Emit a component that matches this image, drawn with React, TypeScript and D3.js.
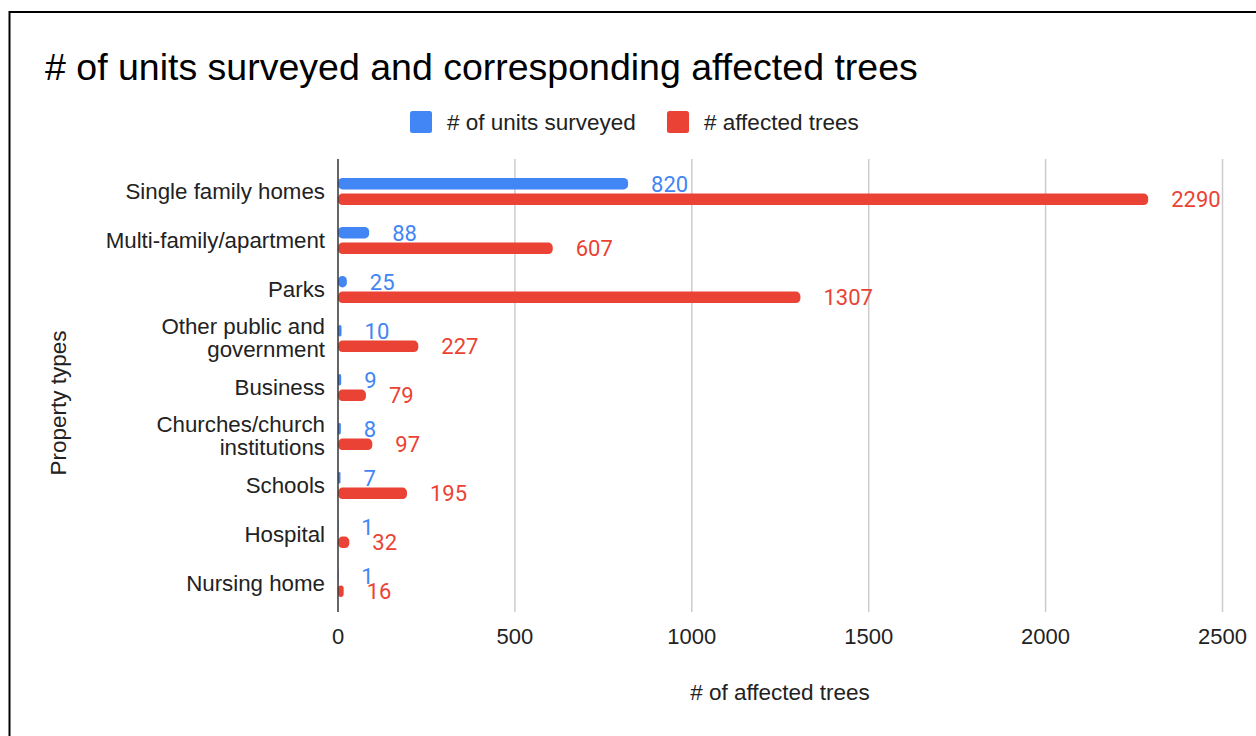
import React from 'react';
import * as d3 from 'd3';

const categories = [
    'Single family homes',
    'Multi-family/apartment',
    'Parks',
    'Other public and\ngovernment',
    'Business',
    'Churches/church\ninstitutions',
    'Schools',
    'Hospital',
    'Nursing home',
];
const unitsSurveyed = [820, 88, 25, 10, 9, 8, 7, 1, 1];
const affectedTrees = [2290, 607, 1307, 227, 79, 97, 195, 32, 16];
const xTicks = [0, 500, 1000, 1500, 2000, 2500];

const seriesNames = ['# of units surveyed', '# affected trees'];
const colors = ['#4285f4', '#ea4335'];

const FONT = 'Arial, "Liberation Sans", sans-serif';
const VALUE_FONT = 'Roboto, "Noto Sans", sans-serif';

export default function App() {
    const width = 1256;
    const height = 736;
    const plot = { left: 338, right: 1222.5, top: 159, bottom: 612 };

    const x = d3.scaleLinear().domain([0, 2500]).range([plot.left, plot.right]);
    const y = d3.scaleBand<string>().domain(categories).range([167, 608]);
    // two bars per category, inside a 30px slot
    const inner = d3.scaleBand<number>().domain([0, 1]).range([0, 30]).paddingInner(0.27).paddingOuter(0.1);

    const series = [unitsSurveyed, affectedTrees];

    return (
        <div style={{ position: 'absolute', left: 0, top: 0 }}>
            <svg width={width} height={height} style={{ display: 'block', background: '#fff' }}>
                <rect x={9.5} y={12} width={1400} height={900} fill="#fff" stroke="#000" strokeWidth={2} />

                <text x={45} y={80} fontFamily={FONT} fontSize={37.5} fill="#000">
                    # of units surveyed and corresponding affected trees
                </text>

                {/* legend */}
                {seriesNames.map((name, i) => {
                    const lx = [410, 667][i];
                    return (
                        <g key={name}>
                            <rect x={lx} y={111} width={22} height={22} rx={2.5} fill={colors[i]} />
                            <text x={lx + 37} y={130} fontFamily={FONT} fontSize={22.5} fill="#222">{name}</text>
                        </g>
                    );
                })}

                {/* grid */}
                {xTicks.slice(1).map(t => (
                    <line key={t} x1={x(t)} x2={x(t)} y1={plot.top} y2={plot.bottom} stroke="#cccccc" strokeWidth={1.5} />
                ))}

                {/* bars */}
                {series.map((vals, si) => (
                    <g key={si}>
                        {vals.map((v, ci) => {
                            const by = y(categories[ci])! + (y.bandwidth() - 30) / 2 + inner(si)!;
                            const bh = inner.bandwidth();
                            const w = Math.max(0, x(v) - x(0));
                            return (
                                <g key={ci}>
                                    <rect x={x(0)} y={by} width={w} height={bh} rx={Math.min(4.5, w / 2)} fill={colors[si]} />
                                    <text x={x(v) + 23} y={by + bh / 2} dy="0.36em" fontFamily={VALUE_FONT} fontSize={22} fill={colors[si]}>
                                        {v}
                                    </text>
                                </g>
                            );
                        })}
                    </g>
                ))}

                {/* axis line */}
                <line x1={plot.left} x2={plot.left} y1={plot.top} y2={plot.bottom} stroke="#333" strokeWidth={1.5} />

                {/* category labels */}
                {categories.map(c => {
                    const lines = c.split('\n');
                    const cy = y(c)! + y.bandwidth() / 2 - 1;
                    return (
                        <text key={c} x={325} textAnchor="end" fontFamily={FONT} fontSize={22.3} fill="#222">
                            {lines.map((l, li) => (
                                <tspan key={li} x={325} y={cy + (li - (lines.length - 1) / 2) * 23} dy="0.36em">{l}</tspan>
                            ))}
                        </text>
                    );
                })}

                {/* x tick labels */}
                {xTicks.map(t => (
                    <text key={t} x={x(t)} y={644} textAnchor="middle" fontFamily={FONT} fontSize={22} fill="#222">{t}</text>
                ))}

                <text x={780} y={700} textAnchor="middle" fontFamily={FONT} fontSize={22.5} fill="#222"># of affected trees</text>
                <text transform="translate(66,403) rotate(-90)" textAnchor="middle" fontFamily={FONT} fontSize={22.5} fill="#222">Property types</text>
            </svg>
        </div>
    );
}
